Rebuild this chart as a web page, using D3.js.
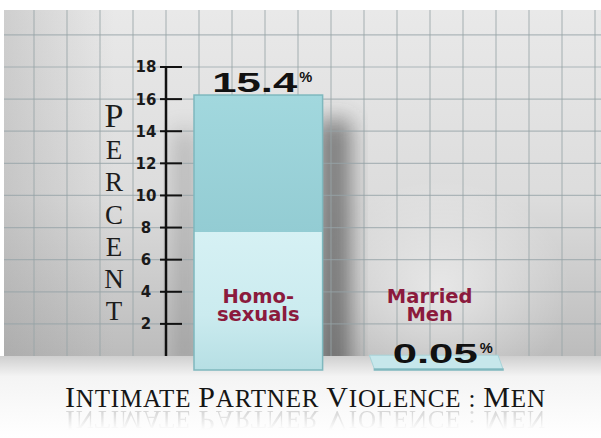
<!DOCTYPE html>
<html>
<head>
<meta charset="utf-8">
<script src="https://cdn.jsdelivr.net/npm/d3@7"></script>
<style>
body { margin: 0; background: #fff; }
svg { display: block; }
</style>
</head>
<body>
<svg id="chart"></svg>
<script>
const groups = ["Homosexuals", "Married Men"];
const groupLabels = [["Homo-", "sexuals"], ["Married", "Men"]];
const values = [15.4, 0.05];
const valueLabels = ["15.4", "0.05"];
const yTicks = [2, 4, 6, 8, 10, 12, 14, 16, 18];
const axisLetters = ["P", "E", "R", "C", "E", "N", "T"];
const titleWords = ["Intimate", "Partner", "Violence", ":", "Men"];

const W = 601, H = 438;
const svg = d3.select("#chart").attr("width", W).attr("height", H);
const defs = svg.append("defs");

// back wall plane (axis + grid)
const y = d3.scaleLinear().domain([0, 18]).range([356, 67]);
// front face of the bars is nearer the camera, so it reads a bit larger
const yFront = d3.scaleLinear().domain([0, 18]).range([370, 48.6]);
const x = d3.scaleBand().domain(groups).range([194, 503]).paddingInner(0.287);
const xGrid = d3.scaleLinear().domain([0, 18]).range([1, 595]);
const axisX = xGrid(5);
const backX = v => v - 5;

// ---- gradients / filters
const wallGrad = defs.append("linearGradient").attr("id", "wall")
    .attr("x1", 0).attr("y1", 0).attr("x2", 0).attr("y2", 1);
wallGrad.append("stop").attr("offset", "0%").attr("stop-color", "#e9e9e9");
wallGrad.append("stop").attr("offset", "55%").attr("stop-color", "#dcdcdc");
wallGrad.append("stop").attr("offset", "100%").attr("stop-color", "#bcbcbc");

const spot = defs.append("radialGradient").attr("id", "spot");
spot.append("stop").attr("offset", "0%").attr("stop-color", "#fff").attr("stop-opacity", 0.55);
spot.append("stop").attr("offset", "100%").attr("stop-color", "#fff").attr("stop-opacity", 0);

const leftShade = defs.append("linearGradient").attr("id", "leftShade")
    .attr("x1", 0).attr("y1", 0).attr("x2", 1).attr("y2", 0);
leftShade.append("stop").attr("offset", "0%").attr("stop-color", "#808080").attr("stop-opacity", 0.25);
leftShade.append("stop").attr("offset", "100%").attr("stop-color", "#808080").attr("stop-opacity", 0);

const floorGrad = defs.append("linearGradient").attr("id", "floor")
    .attr("x1", 0).attr("y1", 0).attr("x2", 0).attr("y2", 1);
floorGrad.append("stop").attr("offset", "0%").attr("stop-color", "#cfcfcf");
floorGrad.append("stop").attr("offset", "25%").attr("stop-color", "#f4f4f4");
floorGrad.append("stop").attr("offset", "100%").attr("stop-color", "#ffffff");

const barGrad = defs.append("linearGradient").attr("id", "barFace")
    .attr("x1", 0).attr("y1", 0).attr("x2", 0).attr("y2", 1);
barGrad.append("stop").attr("offset", "0%").attr("stop-color", "#a2d8de");
barGrad.append("stop").attr("offset", "49.8%").attr("stop-color", "#93ccd3");
barGrad.append("stop").attr("offset", "49.8%").attr("stop-color", "#d6f1f4");
barGrad.append("stop").attr("offset", "80%").attr("stop-color", "#cbebef");
barGrad.append("stop").attr("offset", "100%").attr("stop-color", "#b6dfe4");

defs.append("filter").attr("id", "blur").attr("x", "-50%").attr("y", "-20%")
    .attr("width", "200%").attr("height", "140%")
    .append("feGaussianBlur").attr("stdDeviation", 11);
defs.append("filter").attr("id", "soft")
    .append("feGaussianBlur").attr("stdDeviation", 0.5);

const reflGrad = defs.append("linearGradient").attr("id", "reflGrad")
    .attr("gradientUnits", "userSpaceOnUse")
    .attr("x1", 0).attr("y1", 409).attr("x2", 0).attr("y2", 430);
reflGrad.append("stop").attr("offset", "0%").attr("stop-color", "#fff").attr("stop-opacity", 0.2);
reflGrad.append("stop").attr("offset", "100%").attr("stop-color", "#fff").attr("stop-opacity", 0);
defs.append("mask").attr("id", "reflMask")
    .attr("maskUnits", "userSpaceOnUse").attr("x", 0).attr("y", 0).attr("width", W).attr("height", H)
    .append("rect").attr("x", 0).attr("y", 405).attr("width", W).attr("height", 33)
    .attr("fill", "url(#reflGrad)");

// ---- wall
svg.append("rect").attr("width", W).attr("height", H).attr("fill", "#fff");
const wall = svg.append("g");
wall.append("rect")
    .attr("x", 4).attr("y", 10).attr("width", W - 4).attr("height", y(0) - 10)
    .attr("fill", "url(#wall)");
wall.append("ellipse")
    .attr("cx", 440).attr("cy", 290).attr("rx", 130).attr("ry", 110)
    .attr("fill", "url(#spot)");
wall.append("rect")
    .attr("x", 4).attr("y", 10).attr("width", 110).attr("height", y(0) - 10)
    .attr("fill", "url(#leftShade)");

// bar shadows on the wall
wall.append("rect")
    .attr("x", x(groups[0]) + x.bandwidth() - 6).attr("y", 120)
    .attr("width", 34).attr("height", 260)
    .attr("fill", "#3a3a3a").attr("opacity", 0.6)
    .attr("filter", "url(#blur)");
wall.append("rect")
    .attr("x", axisX + 8).attr("y", 130)
    .attr("width", 22).attr("height", 240)
    .attr("fill", "#555").attr("opacity", 0.3)
    .attr("filter", "url(#blur)");

// grid
const grid = svg.append("g")
    .attr("stroke", "#95a2a7")
    .attr("stroke-width", 1.2)
    .attr("stroke-opacity", 0.7)
    .attr("filter", "url(#soft)");
grid.selectAll("line.v")
    .data(d3.range(1, 19))
    .join("line")
    .attr("class", "v")
    .attr("x1", d => xGrid(d)).attr("x2", d => xGrid(d))
    .attr("y1", 10).attr("y2", y(0));
grid.selectAll("line.h")
    .data(d3.range(2, 22, 2).filter(d => y(d) > 12))
    .join("line")
    .attr("class", "h")
    .attr("x1", 4).attr("x2", W)
    .attr("y1", d => y(d)).attr("y2", d => y(d));

// floor
svg.append("rect")
    .attr("x", 0).attr("y", y(0)).attr("width", W).attr("height", H - y(0))
    .attr("fill", "url(#floor)");

// ---- axis
const axis = svg.append("g").attr("stroke", "#111");
axis.append("line")
    .attr("x1", axisX).attr("x2", axisX)
    .attr("y1", y(18) - 1).attr("y2", y(0))
    .attr("stroke-width", 2.5);
axis.selectAll("line.tick")
    .data(yTicks)
    .join("line")
    .attr("class", "tick")
    .attr("x1", axisX - 6).attr("x2", axisX + 16)
    .attr("y1", d => y(d)).attr("y2", d => y(d))
    .attr("stroke-width", 2);
svg.append("g")
    .selectAll("text")
    .data(yTicks)
    .join("text")
    .attr("x", axisX - 20)
    .attr("y", d => y(d))
    .attr("dy", "0.36em")
    .attr("text-anchor", "middle")
    .attr("font-family", "DejaVu Sans, sans-serif")
    .attr("font-weight", "bold")
    .attr("font-size", 15)
    .attr("fill", "#1a1a1a")
    .text(d => d);

// vertical axis title, small caps stacked
svg.append("g")
    .selectAll("text")
    .data(axisLetters)
    .join("text")
    .attr("x", 114)
    .attr("y", (d, i) => 127 + i * 32.2)
    .attr("text-anchor", "middle")
    .attr("font-family", "Liberation Serif, serif")
    .attr("font-size", (d, i) => i === 0 ? 34 : 27)
    .attr("fill", "#1c1c1c")
    .text(d => d);

// ---- bars
const bars = svg.append("g");
// top face, only where the camera can see it
bars.selectAll("path.top")
    .data(values.map((v, i) => ({ g: groups[i], v: v })).filter(d => y(d.v) < yFront(d.v)))
    .join("path")
    .attr("class", "top")
    .attr("d", d => {
        const x0 = x(d.g), x1 = x(d.g) + x.bandwidth();
        return "M" + backX(x0) + "," + y(d.v) +
            "L" + backX(x1) + "," + y(d.v) +
            "L" + x1 + "," + yFront(d.v) +
            "L" + x0 + "," + yFront(d.v) + "Z";
    })
    .attr("fill", "#c6e7eb")
    .attr("stroke", "#a8d4d9")
    .attr("stroke-width", 1);
bars.selectAll("rect.front")
    .data(values.map((v, i) => ({ g: groups[i], v: v })))
    .join("rect")
    .attr("class", "front")
    .attr("x", d => x(d.g))
    .attr("y", d => yFront(d.v))
    .attr("width", x.bandwidth())
    .attr("height", d => yFront(0) - yFront(d.v))
    .attr("fill", "url(#barFace)")
    .attr("stroke", "#7fb8be")
    .attr("stroke-width", 1.5);

// group labels
const lab = svg.append("g")
    .attr("font-family", "DejaVu Sans, sans-serif")
    .attr("font-weight", "bold")
    .attr("font-size", 19.5)
    .attr("fill", "#8b1a3d")
    .attr("text-anchor", "middle");
groups.forEach((g, i) => {
    const cx = x(g) + x.bandwidth() / 2 - 9 * i;
    const t = lab.append("text").attr("x", cx).attr("y", 303);
    groupLabels[i].forEach((line, j) => {
        t.append("tspan").attr("x", cx).attr("dy", j === 0 ? 0 : 17.5).text(line);
    });
});

// value labels
const vl = svg.append("g")
    .attr("font-family", "Liberation Sans, Arial, sans-serif")
    .attr("font-weight", "bold")
    .attr("fill", "#111");
values.forEach((v, i) => {
    const cx = x(groups[i]) + x.bandwidth() / 2;
    const base = Math.min(yFront(v) - 3, yFront(0) - 7);
    vl.append("text")
        .attr("x", cx - 46).attr("y", base)
        .attr("font-size", 28)
        .attr("textLength", 85)
        .attr("lengthAdjust", "spacingAndGlyphs")
        .text(valueLabels[i]);
    vl.append("text")
        .attr("x", cx + 41).attr("y", base - 10)
        .attr("font-size", 15)
        .attr("textLength", 13)
        .attr("lengthAdjust", "spacingAndGlyphs")
        .text("%");
});

// ---- title with reflection
function titleText(sel) {
    sel.attr("x", 65)
        .attr("font-family", "Liberation Serif, serif")
        .attr("textLength", 480)
        .attr("lengthAdjust", "spacing");
    titleWords.forEach((w, i) => {
        const upper = w.toUpperCase();
        if (/[A-Z]/.test(w[0])) {
            sel.append("tspan").attr("font-size", 30).text(upper[0]);
            sel.append("tspan").attr("font-size", 25).text(upper.slice(1) + (i < titleWords.length - 1 ? " " : ""));
        } else {
            sel.append("tspan").attr("font-size", 25).text(upper + " ");
        }
    });
}
svg.append("text")
    .attr("y", 407)
    .attr("fill", "#151515")
    .call(titleText);
svg.append("g")
    .attr("mask", "url(#reflMask)")
    .append("text")
    .attr("y", 407)
    .attr("transform", "translate(0," + (2 * 409) + ") scale(1,-1)")
    .attr("fill", "#333")
    .call(titleText);
</script>
</body>
</html>
